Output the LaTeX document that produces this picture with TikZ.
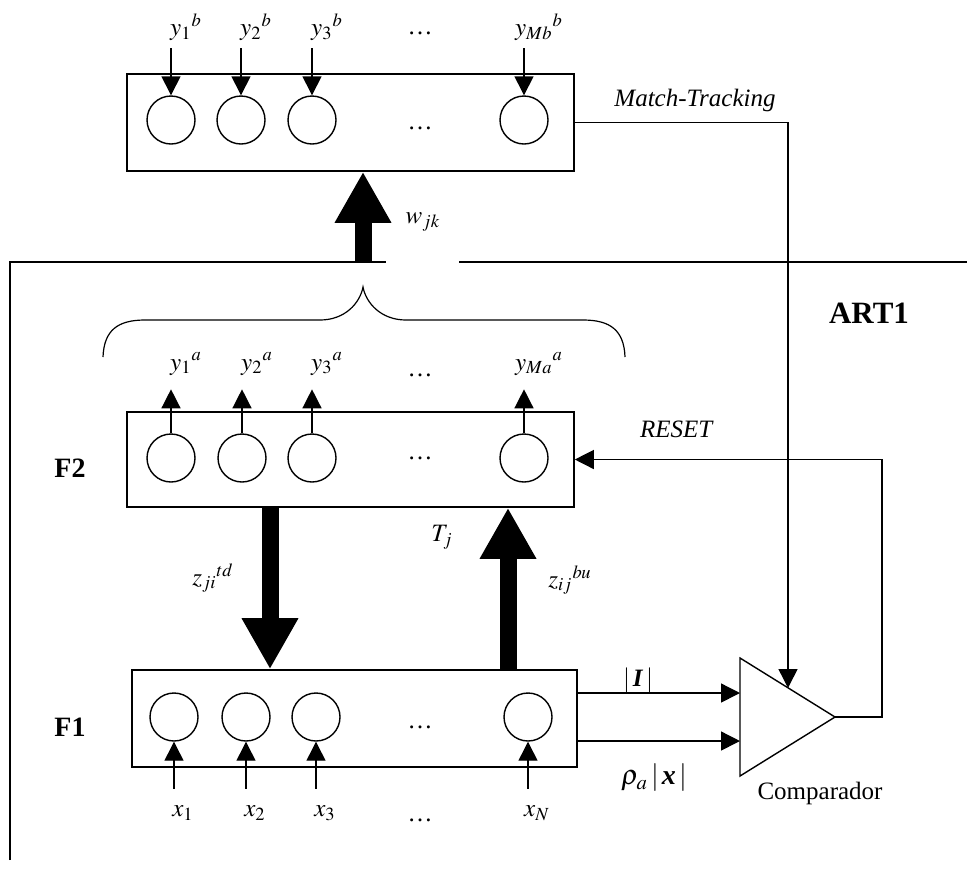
\documentclass[tikz,border=0pt]{standalone}
\usepackage{mathptmx}
\usepackage{fontspec}
\setmainfont{Liberation Serif}
\usetikzlibrary{arrows.meta}

\tikzset{
  layer/.style={draw,line width=0.8pt,minimum width=223.5pt,minimum height=48.5pt,inner sep=0pt},
  neuron/.style={draw,circle,line width=0.7pt,minimum size=24pt,inner sep=0pt},
  arr/.style={line width=0.7pt,-{Triangle[length=9.5pt,width=9.5pt]}},
  fat/.style={line width=8.5pt,-{Triangle[length=25.5pt,width=26.5pt]}},
  lbl/.style={font=\fontsize{12.5}{14}\selectfont,inner sep=0pt},
  tag/.style={font=\fontsize{14}{16}\selectfont\bfseries,inner sep=0pt},
}

\begin{document}
\begin{tikzpicture}[x=0.5pt,y=-0.5pt,line width=0.7pt]
\useasboundingbox (0,0) rectangle (967,874);

% layers
\node[layer] (fb) at (350.5,122.5) {};
\node[layer,minimum height=47.5pt] (f2) at (350.5,459.5) {};
\node[layer,minimum width=222.5pt] (f1) at (354.5,718.5) {};

% map field
\foreach \i/\x/\s in {1/171/1,2/241/2,3/312/3,M/524/Mb}{
  \node[neuron] (b\i) at (\x,120) {};
  \draw[arr] ([yshift=23.5pt]b\i.north) -- (b\i.north);
  \node[lbl] (yb\i) at (\x+15,27) {$y_{\s}{}^{b}$};
}
\node[lbl] (dbin) at (420,128) {\dots};
\node[lbl] (dbout) at (420,33) {\dots};

% F2
\foreach \i/\x/\s in {1/171/1,2/242/2,3/312/3,M/524/Ma}{
  \node[neuron] (a\i) at (\x,458) {};
  \draw[arr] (a\i.north) -- ([yshift=22pt]a\i.north);
  \node[lbl] (ya\i) at (\x+15,364) {$y_{\s}{}^{a}$};
}
\node[lbl] (dain) at (420,458) {\dots};
\node[lbl] (daout) at (420,375) {\dots};

% F1
\foreach \i/\x/\s in {1/174/1,2/246/2,3/316/3,N/528/N}{
  \node[neuron] (c\i) at (\x,717) {};
  \draw[arr] ([yshift=-23.5pt]c\i.south) -- (c\i.south);
  \node[lbl] (x\i) at (\x+9,813) {$x_{\s}$};
}
\node[lbl] (dcin) at (420,727) {\dots};
\node[lbl] (dcout) at (420,820) {\dots};

% thick weights
\coordinate (wjk) at (363,262);
\coordinate (td) at (270,0);
\coordinate (bu) at (508,0);
\draw[fat] (wjk) -- (wjk |- fb.south);
\draw[fat] (td |- f2.south) -- (td |- f1.north);
\draw[fat] (bu |- f1.north) -- (bu |- f2.south);

% ART1 frame
\draw (10,860) -- (10,262) -- (386,262);
\draw (459,262) -- (967,262);

% brace over F2 outputs
\draw[line width=0.6pt] (103,357) .. controls (104,330) and (118,320) .. (145,320) -- (320,320)
  .. controls (345,320) and (360,303) .. (363,287)
  .. controls (366,303) and (381,320) .. (406,320) -- (583,320)
  .. controls (610,320) and (624,330) .. (625,357);

% comparator
\draw (740,658) -- (835,717) -- (740,776) -- cycle;
\coordinate (cmpout) at (835,717);
\coordinate (cmpin1) at (740,693);
\coordinate (cmpin2) at (740,741);
\coordinate (cmptop) at (788,688);

\draw[arr] (f1.east |- cmpin1) -- (cmpin1);
\draw[arr] (f1.east |- cmpin2) -- (cmpin2);
\draw[arr] (fb.east) -| (cmptop);
\draw[arr] (cmpout) -- ++(47,0) |- (f2.east);

% labels
\node[lbl] (mt) at (695,100) {\textit{Match-Tracking}};
\node[lbl] (rst) at (677,429) {\textit{RESET}};
\node[tag,font=\fontsize{15.5}{18}\selectfont\bfseries] (art) at (869,313) {ART1};
\node[tag] (lf2) at (70,468) {F2};
\node[tag] (lf1) at (70,727) {F1};
\node[lbl] (wl) at (423,222) {$w_{jk}$};
\node[lbl] (tj) at (442,537) {$T_j$};
\node[lbl] (ztd) at (213,578) {$z_{ji}{}^{td}$};
\node[lbl] (zbu) at (570,580) {$z_{ij}{}^{bu}$};
\node[lbl] (ii) at (638,680) {$|\,\textbf{\textit{I}}\,|$};
\node[lbl,font=\fontsize{14}{16}\selectfont] (rho) at (654,778) {$\rho_{a}\,|\,\textbf{\textit{x}}\,|$};
\node[lbl] (cmpl) at (820,793) {Comparador};
\end{tikzpicture}
\end{document}
